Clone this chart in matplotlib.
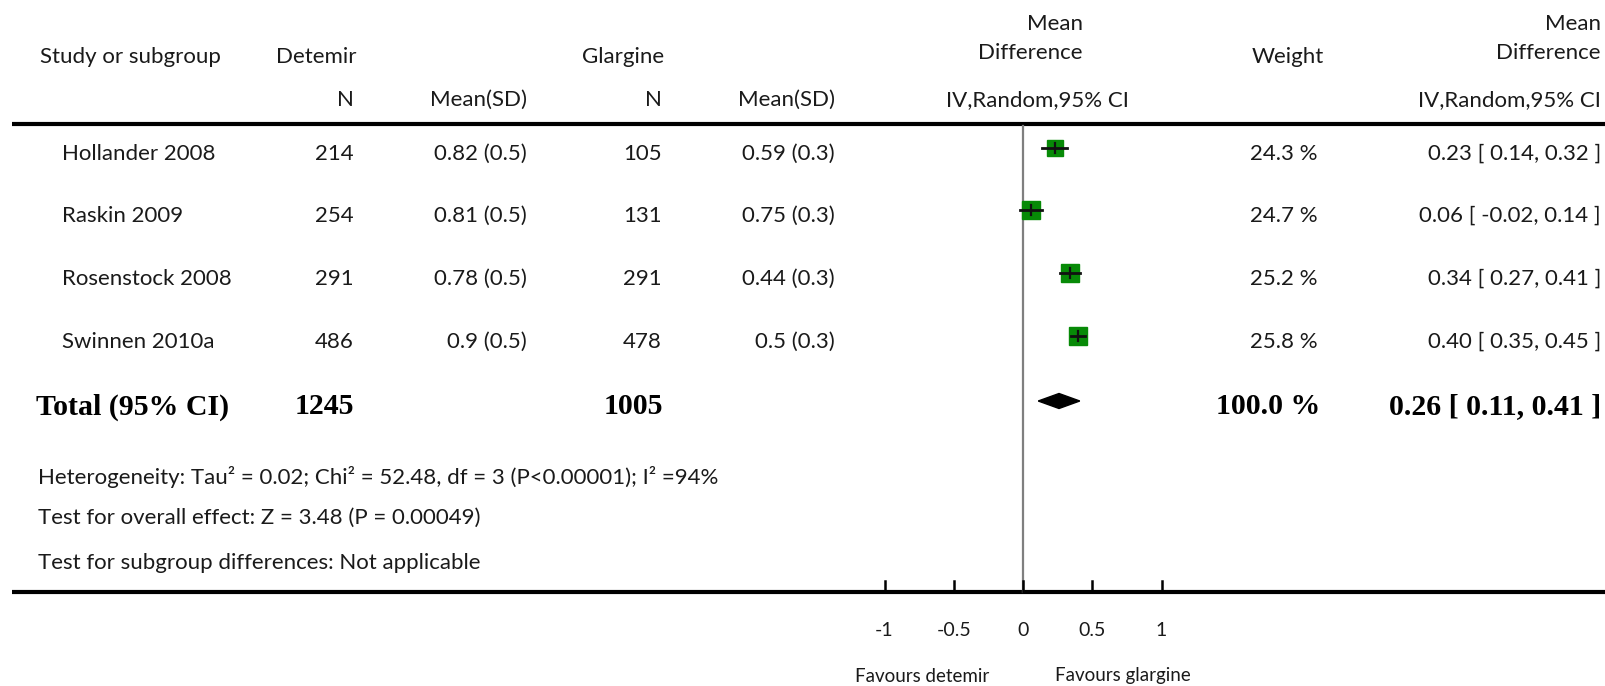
#! /usr/bin/env python3
""" Forest plot: detemir vs glargine, mean difference (random effects). """

import matplotlib
matplotlib.use('Agg')
import matplotlib.pyplot as plt
from matplotlib.patches import Polygon

# data
studies = ['Hollander 2008', 'Raskin 2009', 'Rosenstock 2008', 'Swinnen 2010a']
det_n = [214, 254, 291, 486]
det_mean = [0.82, 0.81, 0.78, 0.9]
det_sd = [0.5, 0.5, 0.5, 0.5]
gla_n = [105, 131, 291, 478]
gla_mean = [0.59, 0.75, 0.44, 0.5]
gla_sd = [0.3, 0.3, 0.3, 0.3]
weights = [24.3, 24.7, 25.2, 25.8]
md = [0.23, 0.06, 0.34, 0.40]
ci_lo = [0.14, -0.02, 0.27, 0.35]
ci_hi = [0.32, 0.14, 0.41, 0.45]

total_det_n = 1245
total_gla_n = 1005
total_weight = 100.0
total_md = 0.26
total_lo = 0.11
total_hi = 0.41

xticks = [-1, -0.5, 0, 0.5, 1]
xticklabels = ['-1', '-0.5', '0', '0.5', '1']

footnotes = [
    'Heterogeneity: Tau\u00b2 = 0.02; Chi\u00b2 = 52.48, df = 3 (P<0.00001); I\u00b2 =94%',
    'Test for overall effect: Z = 3.48 (P = 0.00049)',
    'Test for subgroup differences: Not applicable',
]

W, H = 1606, 686
FONT = 'Lato'
FS = 16
TXT = '#1a1a1a'
GREEN = '#078a07'

# layout in pixels
row_y = [148, 210, 273, 336]   # marker centres
text_dy = 6                    # text sits a little lower than the marks
total_y = 401
foot_y = [477, 518, 563]
zero_px = 1023
unit_px = 138.5
axis_y = 592
head_line_y = 124


def main():
    fig = plt.figure(figsize=(W / 100, H / 100), dpi=100)
    canvas = fig.add_axes([0, 0, 1, 1])
    canvas.set_xlim(0, W)
    canvas.set_ylim(H, 0)
    canvas.axis('off')

    draw_table(canvas)

    # forest axes: x in mean-difference units, y in pixels
    x0, x1 = 820, 1230
    forest = fig.add_axes([x0 / W, 0, (x1 - x0) / W, 1])
    forest.set_xlim((x0 - zero_px) / unit_px, (x1 - zero_px) / unit_px)
    forest.set_ylim(H, 0)
    forest.axis('off')
    draw_forest(forest)

    fig.savefig('out.png', dpi=100)


def txt(ax, x, y, s, ha='left', bold=False, **kw):
    if bold:
        ax.text(x, y, s, ha=ha, va='center', family='Liberation Serif',
                fontsize=21.5, fontweight='bold', color='black', **kw)
    else:
        ax.text(x, y, s, ha=ha, va='center', family=FONT, fontsize=FS,
                color=TXT, **kw)


def draw_table(ax):
    # headers
    txt(ax, 40, 57, 'Study or subgroup')
    txt(ax, 276, 57, 'Detemir')
    txt(ax, 582, 57, 'Glargine')
    txt(ax, 354, 100, 'N', ha='right')
    txt(ax, 527, 100, 'Mean(SD)', ha='right')
    txt(ax, 662, 100, 'N', ha='right')
    txt(ax, 835, 100, 'Mean(SD)', ha='right')
    txt(ax, 1083, 24, 'Mean', ha='right')
    txt(ax, 1083, 53, 'Difference', ha='right')
    txt(ax, 1037, 100, 'IV,Random,95% CI', ha='center')
    txt(ax, 1288, 57, 'Weight', ha='center')
    txt(ax, 1601, 24, 'Mean', ha='right')
    txt(ax, 1601, 53, 'Difference', ha='right')
    txt(ax, 1601, 100, 'IV,Random,95% CI', ha='right')

    ax.plot([12, W], [head_line_y, head_line_y], color='black', lw=3,
            solid_capstyle='butt')
    ax.plot([12, W], [axis_y, axis_y], color='black', lw=3,
            solid_capstyle='butt')

    for i, y in enumerate(row_y):
        y = y + text_dy
        txt(ax, 62, y, studies[i])
        txt(ax, 354, y, str(det_n[i]), ha='right')
        txt(ax, 527, y, '{:g} ({:g})'.format(det_mean[i], det_sd[i]), ha='right')
        txt(ax, 662, y, str(gla_n[i]), ha='right')
        txt(ax, 835, y, '{:g} ({:g})'.format(gla_mean[i], gla_sd[i]), ha='right')
        txt(ax, 1318, y, '{:.1f} %'.format(weights[i]), ha='right')
        txt(ax, 1601, y, '{:.2f} [ {:.2f}, {:.2f} ]'.format(md[i], ci_lo[i], ci_hi[i]),
            ha='right')

    ty = total_y + text_dy
    txt(ax, 36, ty, 'Total (95% CI)', bold=True)
    txt(ax, 354, ty, str(total_det_n), ha='right', bold=True)
    txt(ax, 663, ty, str(total_gla_n), ha='right', bold=True)
    txt(ax, 1320, ty, '{:.1f} %'.format(total_weight), ha='right', bold=True)
    txt(ax, 1601, ty, '{:.2f} [ {:.2f}, {:.2f} ]'.format(
        total_md, total_lo, total_hi), ha='right', bold=True)

    for y, s in zip(foot_y, footnotes):
        txt(ax, 38, y, s)


def draw_forest(ax):
    ax.plot([0, 0], [head_line_y + 2, axis_y], color='#7f7f7f', lw=1.6)

    for i, y in enumerate(row_y):
        ax.plot(md[i], y, marker='s', ms=weights[i] * 0.5, color=GREEN,
                mec=GREEN, ls='none', zorder=3)
        ax.plot([ci_lo[i], ci_hi[i]], [y, y], color='#111111', lw=2, zorder=4)
        ax.plot([md[i], md[i]], [y - 5, y + 5], color='#111111', lw=1.6, zorder=4)

    half = 7.5
    diamond = Polygon([(total_lo, total_y), (total_md, total_y - half),
                       (total_hi, total_y), (total_md, total_y + half)],
                      closed=True, color='black', zorder=3)
    ax.add_patch(diamond)

    for t, lab in zip(xticks, xticklabels):
        ax.plot([t, t], [axis_y, axis_y - 11], color='black', lw=1.8)
        ax.text(t, 631, lab, ha='center', va='center', family=FONT,
                fontsize=14, color=TXT)

    ax.text(-0.73, 676, 'Favours detemir', ha='center', va='center', family=FONT,
            fontsize=13.5, color=TXT)
    ax.text(0.72, 676, 'Favours glargine', ha='center', va='center', family=FONT,
            fontsize=13.5, color=TXT)


if __name__ == "__main__":
    main()
